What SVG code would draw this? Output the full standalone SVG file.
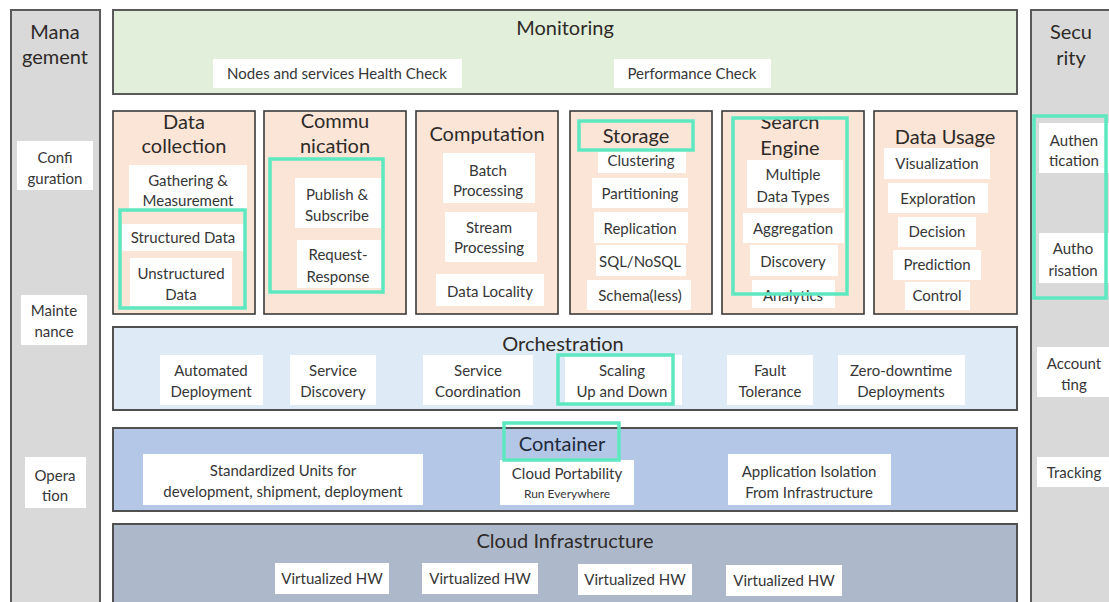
<svg xmlns="http://www.w3.org/2000/svg" width="1109" height="602" viewBox="0 0 1109 602">
  <defs>
    <style>
      text { font-family: Lato, "Liberation Sans", sans-serif; fill: #363636; text-anchor: middle; dominant-baseline: central; }
      .t { font-size: 20px; fill: #2e2a28; }
      .i { font-size: 15px; }
      .s { font-size: 12px; }
      .side { fill: #d9d9d9; stroke: #5a5a5a; stroke-width: 2; }
      .mon { fill: #e2efda; stroke: #5a5a5a; stroke-width: 2; }
      .col { fill: #fbe5d6; stroke: #3a3a3a; stroke-width: 1.6; }
      .orch { fill: #deebf7; stroke: #505050; stroke-width: 2; }
      .cont { fill: #b4c7e7; stroke: #505050; stroke-width: 2; }
      .cloud { fill: #adb9ca; stroke: #505050; stroke-width: 2; }
      .b { fill: #ffffff; }
      .hl { fill: none; stroke: #5ee8c0; stroke-width: 3.5; }
    </style>
    <clipPath id="searchClip">
      <rect x="723" y="119" width="140" height="40"/>
    </clipPath>
  </defs>
  <rect width="1109" height="602" fill="#ffffff"/>

  <!-- Management side bar -->
  <g id="management">
    <rect class="side" x="11" y="10" width="89" height="600"/>
    <text class="t" x="55" y="31">Mana</text>
    <text class="t" x="55" y="56">gement</text>
    <rect class="b" x="17" y="141" width="76" height="49"/>
    <text class="i" x="55" y="157">Confi</text>
    <text class="i" x="55" y="178">guration</text>
    <rect class="b" x="21" y="295" width="66" height="50"/>
    <text class="i" x="54" y="310">Mainte</text>
    <text class="i" x="54" y="331">nance</text>
    <rect class="b" x="25" y="457" width="61" height="51"/>
    <text class="i" x="55" y="475">Opera</text>
    <text class="i" x="55" y="495">tion</text>
  </g>

  <!-- Security side bar -->
  <g id="security">
    <rect class="side" x="1031" y="10" width="90" height="600"/>
    <text class="t" x="1071" y="31">Secu</text>
    <text class="t" x="1071" y="57">rity</text>
    <rect class="b" x="1039" y="123" width="70" height="50"/>
    <text class="i" x="1074" y="140">Authen</text>
    <text class="i" x="1074" y="160">tication</text>
    <rect class="b" x="1039" y="233" width="70" height="50"/>
    <text class="i" x="1073" y="248">Autho</text>
    <text class="i" x="1073" y="270">risation</text>
    <rect class="b" x="1037" y="347" width="72" height="50"/>
    <text class="i" x="1074" y="363">Account</text>
    <text class="i" x="1074" y="384">ting</text>
    <rect class="b" x="1037" y="457" width="72" height="30"/>
    <text class="i" x="1074" y="472">Tracking</text>
    <rect class="hl" x="1034" y="116" width="72" height="182"/>
  </g>

  <!-- Monitoring layer -->
  <g id="monitoring">
    <rect class="mon" x="113" y="10" width="904" height="84"/>
    <text class="t" x="565" y="27">Monitoring</text>
    <rect class="b" x="213" y="59" width="249" height="29"/>
    <text class="i" x="337" y="73">Nodes and services Health Check</text>
    <rect class="b" x="614" y="59" width="157" height="29"/>
    <text class="i" x="692" y="73">Performance Check</text>
  </g>

  <!-- Data collection column -->
  <g id="data-collection">
    <rect class="col" x="113" y="111" width="142" height="203"/>
    <text class="t" x="184" y="121">Data</text>
    <text class="t" x="184" y="145">collection</text>
    <rect class="b" x="129" y="165" width="118" height="45"/>
    <text class="i" x="188" y="180">Gathering &amp;</text>
    <text class="i" x="188" y="200">Measurement</text>
    <rect class="b" x="122" y="224" width="123" height="27"/>
    <text class="i" x="183" y="237">Structured Data</text>
    <rect class="b" x="130" y="258" width="102" height="48"/>
    <text class="i" x="181" y="273">Unstructured</text>
    <text class="i" x="181" y="294">Data</text>
    <rect class="hl" x="120" y="210" width="125" height="98"/>
  </g>

  <!-- Communication column -->
  <g id="communication">
    <rect class="col" x="264" y="111" width="142" height="203"/>
    <text class="t" x="335" y="120">Commu</text>
    <text class="t" x="335" y="145">nication</text>
    <rect class="b" x="295" y="178" width="86" height="50"/>
    <text class="i" x="337" y="194">Publish  &amp;</text>
    <text class="i" x="337" y="215">Subscribe</text>
    <rect class="b" x="297" y="240" width="84" height="48"/>
    <text class="i" x="338" y="254">Request-</text>
    <text class="i" x="338" y="276">Response</text>
    <rect class="hl" x="270" y="159" width="113" height="133"/>
  </g>

  <!-- Computation column -->
  <g id="computation">
    <rect class="col" x="416" y="111" width="142" height="203"/>
    <text class="t" x="487" y="133">Computation</text>
    <rect class="b" x="443" y="153" width="92" height="50"/>
    <text class="i" x="488" y="170">Batch</text>
    <text class="i" x="488" y="190">Processing</text>
    <rect class="b" x="445" y="212" width="92" height="50"/>
    <text class="i" x="489" y="227">Stream</text>
    <text class="i" x="489" y="247">Processing</text>
    <rect class="b" x="436" y="274" width="108" height="32"/>
    <text class="i" x="490" y="291">Data Locality</text>
  </g>

  <!-- Storage column -->
  <g id="storage">
    <rect class="col" x="570" y="111" width="142" height="203"/>
    <text class="t" x="636" y="135">Storage</text>
    <rect class="b" x="598" y="150" width="88" height="23"/>
    <text class="i" x="641" y="160">Clustering</text>
    <rect class="b" x="592" y="178" width="96" height="30"/>
    <text class="i" x="640" y="193">Partitioning</text>
    <rect class="b" x="594" y="212" width="94" height="31"/>
    <text class="i" x="640" y="228">Replication</text>
    <rect class="b" x="596" y="245" width="90" height="31"/>
    <text class="i" x="640" y="261">SQL/NoSQL</text>
    <rect class="b" x="587" y="280" width="104" height="30"/>
    <text class="i" x="640" y="295">Schema(less)</text>
    <rect class="hl" x="579" y="121" width="114" height="29"/>
  </g>

  <!-- Search engine column -->
  <g id="search-engine">
    <rect class="col" x="722" y="111" width="142" height="203"/>
    <text class="t" x="790" y="121" clip-path="url(#searchClip)">Search</text>
    <text class="t" x="790" y="147">Engine</text>
    <rect class="b" x="747" y="160" width="96" height="48"/>
    <text class="i" x="793" y="174">Multiple</text>
    <text class="i" x="793" y="196">Data Types</text>
    <rect class="b" x="743" y="213" width="101" height="30"/>
    <text class="i" x="793" y="228">Aggregation</text>
    <rect class="b" x="750" y="245" width="88" height="31"/>
    <text class="i" x="793" y="261">Discovery</text>
    <rect class="b" x="752" y="280" width="83" height="28"/>
    <text class="i" x="793" y="295">Analytics</text>
    <rect class="hl" x="733" y="118" width="114" height="176"/>
  </g>

  <!-- Data usage column -->
  <g id="data-usage">
    <rect class="col" x="874" y="111" width="143" height="203"/>
    <text class="t" x="945" y="136">Data Usage</text>
    <rect class="b" x="884" y="148" width="106" height="31"/>
    <text class="i" x="937" y="163">Visualization</text>
    <rect class="b" x="888" y="183" width="100" height="30"/>
    <text class="i" x="938" y="198">Exploration</text>
    <rect class="b" x="898" y="217" width="78" height="30"/>
    <text class="i" x="937" y="231">Decision</text>
    <rect class="b" x="893" y="250" width="88" height="30"/>
    <text class="i" x="937" y="264">Prediction</text>
    <rect class="b" x="905" y="282" width="65" height="28"/>
    <text class="i" x="937" y="295">Control</text>
  </g>

  <!-- Orchestration layer -->
  <g id="orchestration">
    <rect class="orch" x="113" y="327" width="904" height="83"/>
    <text class="t" x="563" y="343">Orchestration</text>
    <rect class="b" x="160" y="355" width="103" height="50"/>
    <text class="i" x="211" y="370">Automated</text>
    <text class="i" x="211" y="391">Deployment</text>
    <rect class="b" x="290" y="355" width="86" height="50"/>
    <text class="i" x="333" y="370">Service</text>
    <text class="i" x="333" y="391">Discovery</text>
    <rect class="b" x="423" y="355" width="110" height="50"/>
    <text class="i" x="478" y="370">Service</text>
    <text class="i" x="478" y="391">Coordination</text>
    <rect class="b" x="565" y="355" width="117" height="50"/>
    <text class="i" x="622" y="370">Scaling</text>
    <text class="i" x="622" y="391">Up and Down</text>
    <rect class="b" x="727" y="355" width="86" height="50"/>
    <text class="i" x="770" y="370">Fault</text>
    <text class="i" x="770" y="391">Tolerance</text>
    <rect class="b" x="838" y="355" width="127" height="50"/>
    <text class="i" x="901" y="370">Zero-downtime</text>
    <text class="i" x="901" y="391">Deployments</text>
    <rect class="hl" x="558" y="355" width="115" height="49"/>
  </g>

  <!-- Container layer -->
  <g id="container">
    <rect class="cont" x="113" y="428" width="904" height="83"/>
    <rect class="b" x="143" y="454" width="280" height="51"/>
    <text class="i" x="283" y="470">Standardized Units for</text>
    <text class="i" x="283" y="491">development, shipment, deployment</text>
    <rect class="b" x="500" y="460" width="134" height="45"/>
    <text class="i" x="567" y="473">Cloud Portability</text>
    <text class="s" x="567" y="493">Run Everywhere</text>
    <rect class="b" x="728" y="454" width="163" height="51"/>
    <text class="i" x="809" y="471">Application Isolation</text>
    <text class="i" x="809" y="492">From Infrastructure</text>
    <text class="t" x="562" y="443" style="fill:#1f2a3a">Container</text>
    <rect class="hl" x="504" y="423" width="115" height="37"/>
  </g>

  <!-- Cloud infrastructure layer -->
  <g id="cloud-infrastructure">
    <rect class="cloud" x="113" y="524" width="904" height="90"/>
    <text class="t" x="565" y="540">Cloud Infrastructure</text>
    <rect class="b" x="275" y="563" width="114" height="31"/>
    <text class="i" x="332" y="578">Virtualized HW</text>
    <rect class="b" x="422" y="563" width="116" height="31"/>
    <text class="i" x="480" y="578">Virtualized HW</text>
    <rect class="b" x="578" y="564" width="114" height="31"/>
    <text class="i" x="635" y="579">Virtualized HW</text>
    <rect class="b" x="726" y="565" width="116" height="31"/>
    <text class="i" x="784" y="580">Virtualized HW</text>
  </g>

  <!-- no connectors in this layered diagram -->
  <g id="connectors"/>
</svg>
